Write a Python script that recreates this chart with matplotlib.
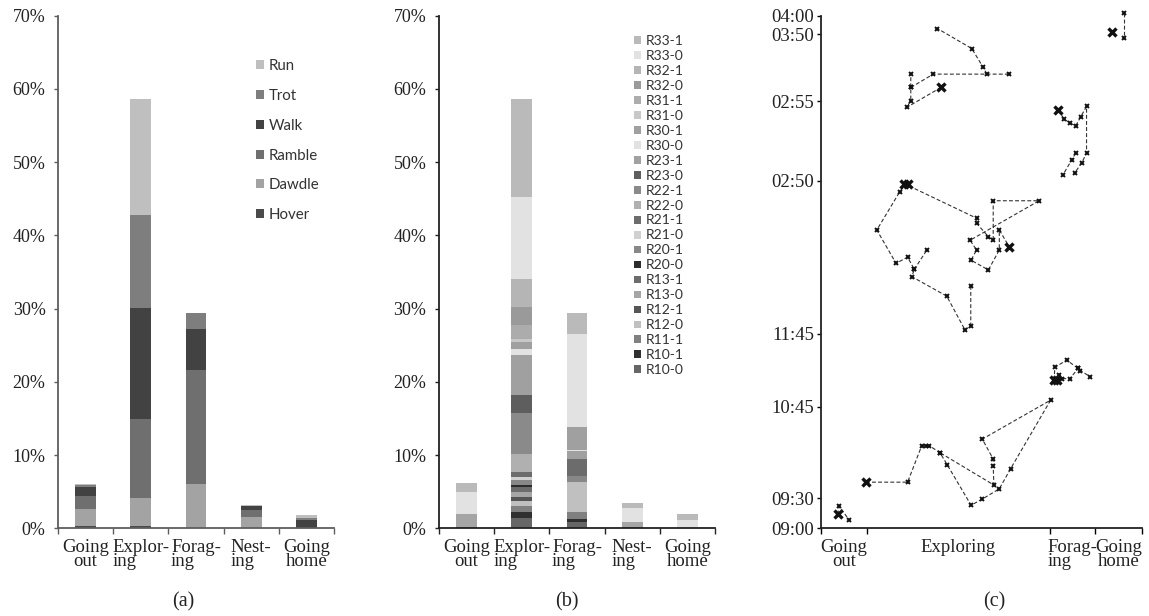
import matplotlib
matplotlib.use("Agg")
import matplotlib.pyplot as plt
from matplotlib.ticker import FixedLocator, NullFormatter

SERIF = ["Liberation Serif", "DejaVu Serif"]
SANS = ["Lato", "DejaVu Sans"]

# ---------------- data ----------------
phases = ["Going\nout", "Explor-\ning", "Forag-\ning", "Nest-\ning", "Going\nhome"]
phase_align = ["center", "left", "left", "left", "center"]

# (a) share of time per speed class, stacked bottom -> top
speed_classes = ["Hover", "Dawdle", "Ramble", "Walk", "Trot", "Run"]
hover = [0.3, 0.3, 0.0, 0.0, 0.0]
dawdle = [2.4, 3.8, 6.1, 1.5, 0.0]
ramble = [1.7, 10.8, 15.5, 1.0, 0.0]
walk = [1.2, 15.2, 5.6, 0.5, 1.2]
trot = [0.3, 12.7, 2.2, 0.1, 0.2]
run = [0.1, 15.8, 0.0, 0.1, 0.4]
speed_values = [hover, dawdle, ramble, walk, trot, run]
speed_colors = ["#4a4a4a", "#a3a3a3", "#6f6f6f", "#424242", "#7e7e7e", "#bfbfbf"]

# (b) share of time per region/state, stacked bottom -> top
region_labels = ["R10-0", "R10-1", "R11-1", "R12-0", "R12-1", "R13-0", "R13-1",
                 "R20-0", "R20-1", "R21-0", "R21-1", "R22-0", "R22-1", "R23-0",
                 "R23-1", "R30-0", "R30-1", "R31-0", "R31-1", "R32-0", "R32-1",
                 "R33-0", "R33-1"]
r10_0 = [0.2, 1.4, 0.8, 0.2, 0.1]
r10_1 = [0.0, 0.8, 0.5, 0.0, 0.0]
r11_1 = [0.0, 0.8, 0.9, 0.0, 0.0]
r12_0 = [0.0, 0.7, 4.1, 0.0, 0.0]
r12_1 = [0.0, 0.6, 0.0, 0.0, 0.0]
r13_0 = [1.7, 0.7, 0.0, 0.7, 0.0]
r13_1 = [0.0, 0.6, 0.0, 0.0, 0.0]
r20_0 = [0.0, 0.3, 0.0, 0.0, 0.0]
r20_1 = [0.0, 0.7, 0.9, 0.0, 0.0]
r21_0 = [0.0, 0.4, 0.0, 0.0, 0.0]
r21_1 = [0.0, 0.7, 2.3, 0.0, 0.0]
r22_0 = [0.0, 2.5, 0.0, 0.0, 0.0]
r22_1 = [0.0, 5.5, 0.0, 0.0, 0.0]
r23_0 = [0.0, 2.5, 0.0, 0.0, 0.0]
r23_1 = [0.0, 5.4, 1.0, 0.0, 0.0]
r30_0 = [0.0, 0.9, 0.2, 0.0, 0.0]
r30_1 = [0.0, 1.0, 3.2, 0.0, 0.0]
r31_0 = [0.0, 0.4, 0.0, 0.0, 0.0]
r31_1 = [0.0, 1.8, 0.0, 0.0, 0.0]
r32_0 = [0.0, 2.5, 0.0, 0.0, 0.0]
r32_1 = [0.0, 3.9, 0.0, 0.0, 0.0]
r33_0 = [3.1, 11.1, 12.7, 1.9, 1.1]
r33_1 = [1.2, 13.4, 2.8, 0.7, 0.7]
region_values = [r10_0, r10_1, r11_1, r12_0, r12_1, r13_0, r13_1, r20_0, r20_1,
                 r21_0, r21_1, r22_0, r22_1, r23_0, r23_1, r30_0, r30_1, r31_0,
                 r31_1, r32_0, r32_1, r33_0, r33_1]
region_colors = ["#666666", "#303030", "#808080", "#c0c0c0", "#555555", "#a5a5a5",
                 "#6c6c6c", "#2c2c2c", "#888888", "#d0d0d0", "#6c6c6c", "#b0b0b0",
                 "#8a8a8a", "#5e5e5e", "#a0a0a0", "#e2e2e2", "#a0a0a0", "#c8c8c8",
                 "#acacac", "#9a9a9a", "#b5b5b5", "#e2e2e2", "#bababa"]

# (c) activity timeline: phase boundaries, time ticks, tracks
c_phase_edges = [0, 14.25, 71.4, 85.5, 100]
c_phase_labels = ["Going\nout", "Exploring", "Forag-\ning", "Going\nhome"]
c_phase_align = ["center", "center", "left", "center"]
c_time_pos = [0, 5.85, 23.7, 38.0, 67.8, 83.3, 96.4, 100]
c_time_labels = ["09:00", "09:30", "10:45", "11:45", "02:50", "02:55", "03:50", "04:00"]

track_x = [
    [5.2, 5.7, 8.8],
    [14.0, 27.0, 31.4, 32.6, 33.8, 37.1, 39.4, 46.8, 50.3, 55.6, 59.1, 71.6,
     50.3, 53.7, 53.7, 53.9, 37.1],
    [72.7, 72.9, 76.6, 80.2, 80.9, 83.9],
    [72.7, 74.3, 75.0, 77.6, 80.2],
    [46.7, 46.7, 44.9, 39.2, 28.3, 29.1, 27.0, 23.4, 17.4, 24.6, 26.4, 48.5,
     48.5, 52.2, 53.7, 53.7, 68.0, 46.5, 48.5, 46.8, 52.2, 55.6, 55.6, 58.7],
    [29.1, 32.9],
    [37.4, 26.7, 28.0, 28.0, 28.0],
    [28.0, 35.0, 58.7],
    [51.7, 50.6, 47.0, 36.3],
    [74.0, 75.8, 77.6, 79.4, 81.0, 82.8, 82.8, 81.3, 79.2],
    [79.4, 78.2, 75.4],
    [94.5, 94.5],
]
track_y = [
    [2.7, 4.35, 1.56],
    [9.0, 9.0, 16.1, 16.1, 16.1, 14.75, 12.35, 4.5, 5.7, 7.7, 11.6, 25.0,
     17.4, 13.5, 12.2, 8.45, 14.75],
    [28.9, 31.4, 32.8, 31.2, 30.75, 29.6],
    [28.9, 29.9, 29.2, 29.2, 31.2],
    [47.3, 39.5, 38.7, 45.3, 49.1, 50.5, 52.9, 51.7, 58.2, 65.7, 67.1, 60.5,
     59.5, 56.9, 56.2, 63.9, 63.9, 56.2, 54.3, 52.3, 50.4, 54.3, 58.2, 54.9],
    [50.5, 54.2],
    [86.0, 82.1, 83.4, 86.0, 88.6],
    [86.0, 88.6, 88.6],
    [88.6, 89.9, 93.6, 97.5],
    [81.6, 79.8, 79.1, 78.5, 80.3, 82.3, 73.2, 71.3, 69.4],
    [73.2, 71.9, 68.9],
    [100.6, 95.6],
]
start_x = [5.2, 14.0, 72.7, 73.6, 26.0, 27.0, 58.7, 37.4, 74.0, 90.8]
start_y = [2.7, 9.0, 28.9, 28.9, 67.1, 67.1, 54.9, 86.0, 81.6, 96.9]

# ---------------- figure ----------------
fig = plt.figure(figsize=(11.49, 6.16), dpi=100)
W, H = 1149.0, 616.0


def px_axes(left, right, top, bottom):
    return fig.add_axes([left / W, 1 - bottom / H, (right - left) / W, (bottom - top) / H])


def style_bar_axes(ax, spine_color):
    ax.set_xlim(-0.5, len(phases) - 0.5)
    ax.set_ylim(0, 70)
    for s in ("top", "right"):
        ax.spines[s].set_visible(False)
    for s in ("left", "bottom"):
        ax.spines[s].set_color(spine_color)
        ax.spines[s].set_linewidth(1.3)
    ax.set_yticks(range(0, 71, 10))
    ax.set_yticklabels([f"{v}%" for v in range(0, 71, 10)], fontfamily=SERIF,
                       fontsize=13, color="#222222")
    ax.tick_params(axis="y", direction="out", length=3, width=1, color=spine_color, pad=6)
    ax.set_xticks(range(len(phases)))
    ax.set_xticklabels(phases, fontfamily=SERIF, fontsize=13.5, color="#222222",
                       linespacing=0.75)
    for lab, al in zip(ax.get_xticklabels(), phase_align):
        lab.set_multialignment(al)
    ax.tick_params(axis="x", which="major", length=0, pad=8)
    ax.xaxis.set_minor_locator(FixedLocator([i - 0.5 for i in range(len(phases) + 1)]))
    ax.xaxis.set_minor_formatter(NullFormatter())
    ax.tick_params(axis="x", which="minor", direction="out", length=4, width=1,
                   color=spine_color)


def stacked(ax, values, colors, labels):
    bottoms = [0.0] * len(phases)
    handles = []
    for vals, col, lab in zip(values, colors, labels):
        bc = ax.bar(range(len(phases)), vals, width=0.38, bottom=bottoms, color=col,
                    edgecolor="none", label=lab)
        handles.append(bc)
        bottoms = [b + v for b, v in zip(bottoms, vals)]
    return handles


# (a)
ax_a = px_axes(58, 334, 15.7, 528.3)
style_bar_axes(ax_a, "#5e5e5e")
ha = stacked(ax_a, speed_values, speed_colors, speed_classes)
leg_a = ax_a.legend(handles=ha[::-1], labels=speed_classes[::-1], loc="upper left",
                    bbox_to_anchor=(0.718, 0.915), frameon=False,
                    prop={"family": SANS, "size": 10.8}, handlelength=0.55,
                    handleheight=0.55, handletextpad=0.3, labelspacing=1.05,
                    borderpad=0, borderaxespad=0)
for t in leg_a.get_texts():
    t.set_color("#333333")

# (b)
ax_b = px_axes(439, 715, 15.7, 528.3)
style_bar_axes(ax_b, "#222222")
hb = stacked(ax_b, region_values, region_colors, region_labels)
leg_b = ax_b.legend(handles=hb[::-1], labels=region_labels[::-1], loc="upper left",
                    bbox_to_anchor=(0.705, 0.963), frameon=False,
                    prop={"family": SANS, "size": 10}, handlelength=0.5,
                    handleheight=0.5, handletextpad=0.35, labelspacing=0.215,
                    borderpad=0, borderaxespad=0)
for t in leg_b.get_texts():
    t.set_color("#333333")

# (c)
ax_c = px_axes(821, 1141.7, 15.7, 528.3)
ax_c.set_xlim(0, 100)
ax_c.set_ylim(0, 100)
for s in ("top", "right"):
    ax_c.spines[s].set_visible(False)
for s in ("left", "bottom"):
    ax_c.spines[s].set_color("#222222")
    ax_c.spines[s].set_linewidth(1.3)
ax_c.set_yticks(c_time_pos)
ax_c.set_yticklabels(c_time_labels, fontfamily=SERIF, fontsize=13.5, color="#222222")
ax_c.tick_params(axis="y", direction="out", length=3, width=1, pad=2)
centers = [(a + b) / 2 for a, b in zip(c_phase_edges[:-1], c_phase_edges[1:])]
ax_c.set_xticks(centers)
ax_c.set_xticklabels(c_phase_labels, fontfamily=SERIF, fontsize=13.5, color="#222222",
                     linespacing=0.75)
for lab, al in zip(ax_c.get_xticklabels(), c_phase_align):
    lab.set_multialignment(al)
ax_c.tick_params(axis="x", which="major", length=0, pad=8)
ax_c.xaxis.set_minor_locator(FixedLocator(c_phase_edges))
ax_c.xaxis.set_minor_formatter(NullFormatter())
ax_c.tick_params(axis="x", which="minor", direction="out", length=4, width=1)

for xs, ys in zip(track_x, track_y):
    ax_c.plot(xs, ys, color="#333333", lw=0.8, dashes=(3.5, 2), marker="x",
              ms=3.5, mew=1.4, mec="#111111", clip_on=False)
ax_c.plot(start_x, start_y, ls="none", marker="x", ms=6, mew=2.4, color="#111111",
          clip_on=False)

# panel captions
for xpix, txt in ((183, "(a)"), (567, "(b)"), (994, "(c)")):
    fig.text(xpix / W, 1 - 602 / H, txt, ha="center", va="center",
             fontfamily=SERIF, fontsize=14.5, color="#222222")

fig.savefig("out.png", dpi=100)
